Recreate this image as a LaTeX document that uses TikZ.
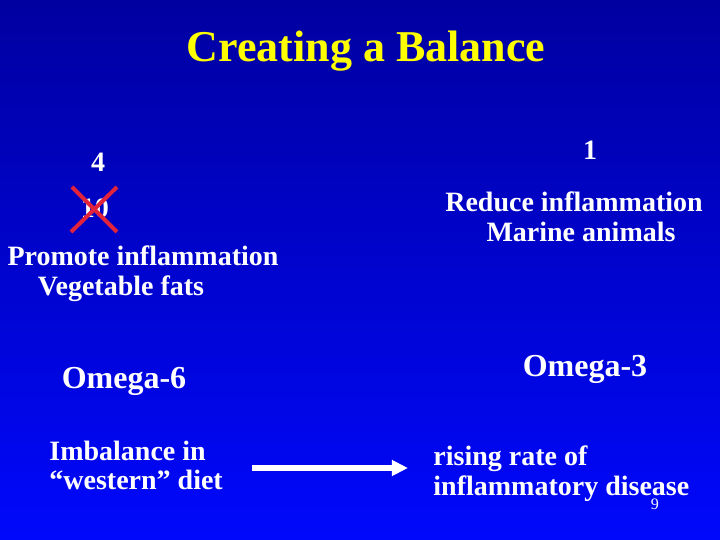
\documentclass[tikz,border=0pt]{standalone}
\usepackage{fontspec}
\setmainfont{Liberation Serif}
\usetikzlibrary{arrows.meta}
\definecolor{slidetop}{RGB}{0,0,160}
\definecolor{slidebot}{RGB}{0,8,252}
\definecolor{ttlyellow}{RGB}{255,255,0}
\definecolor{crossred}{RGB}{225,35,60}

\begin{document}
\begin{tikzpicture}[x=0.5pt,y=-0.5pt,
    body/.style={text=white,inner sep=0pt,anchor=base,font=\fontsize{14}{15}\selectfont\bfseries},
    omega/.style={body,font=\fontsize{16}{18}\selectfont\bfseries},
    bigarrow/.style={white,line width=3pt,-{Triangle[length=8pt,width=7.5pt]}},
    cross/.style={crossred,line width=2pt}]
      \shade[top color=slidetop,bottom color=slidebot] (0,0) rectangle (720,540);
      \useasboundingbox (0,0) rectangle (720,540);
      % title
      \node[body,text=ttlyellow,font=\fontsize{22}{24}\selectfont\bfseries] (title) at (366,62) {Creating a Balance};
      % omega-6 side
      \node[body] (four) at (98,172) {4};
      \node[body] (ten) at (95,218) {10};
      \draw[cross] (72,187) -- (117,232);
      \draw[cross] (117,187) -- (71,232);
      \node[body] (promote) at (143,266) {Promote inflammation};
      \node[body] (veg) at (121,296) {Vegetable fats};
      \node[omega] (om6) at (124,389) {Omega-6};
      % omega-3 side
      \node[body] (one) at (590,160) {1};
      \node[body] (reduce) at (574,212) {Reduce inflammation};
      \node[body] (marine) at (581,242) {Marine animals};
      \node[omega] (om3) at (585,377) {Omega-3};
      % bottom row
      \node[body,anchor=base west] (imb) at (49,461) {Imbalance in};
      \node[body,anchor=base west] (west) at (49,490) {``western'' diet};
      \node[body,anchor=base west] (rise) at (433,466) {rising rate of};
      \node[body,anchor=base west] (infl) at (433,496) {inflammatory disease};
      \coordinate (arrS) at (252,468);
      \draw[bigarrow,shorten >=12.5pt] (arrS) -- (arrS -| rise.west);
      \node[text=white,inner sep=0pt,anchor=base,font=\fontsize{8}{9}\selectfont] (pg) at (655,510) {9};
    \end{tikzpicture}
\end{document}
